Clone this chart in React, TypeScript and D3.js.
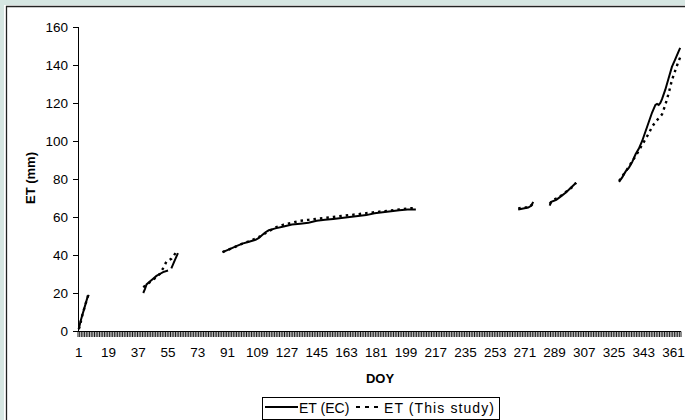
import React, { useEffect, useRef } from 'react'
import * as d3 from 'd3'

// ET (EC) - measured, gaps between periods
const ecSegments: [number, number][][] = [
  [[1, 1], [2, 5], [3, 8], [4, 11], [5, 14], [6, 17], [7, 19]],
  [[40, 20], [41, 22], [42, 24.5], [44, 26], [46, 27.5], [48, 29], [50, 30], [52, 31], [55, 31.8]],
  [[57, 33], [59, 37], [61, 41]],
  [[88, 41.5], [92, 43], [96, 44.5], [100, 46], [104, 47], [108, 48], [110, 49], [112, 50.5], [114, 52], [116, 53],
    [120, 54], [125, 55], [130, 56], [135, 56.5], [140, 57], [145, 58], [150, 58.5], [155, 59], [160, 59.5],
    [165, 60], [170, 60.5], [175, 61], [180, 62], [185, 62.5], [190, 63], [195, 63.5], [200, 64], [205, 64]],
  [[267, 64], [270, 64.5], [273, 65], [275, 66], [276, 68]],
  [[286, 66], [287, 68], [290, 69], [293, 71], [296, 73], [299, 75.5], [302, 78]],
  [[328, 78.5], [330, 81], [332, 84], [334, 86], [336, 89], [338, 93], [340, 96], [342, 100], [344, 105],
    [346, 110], [348, 115], [350, 119], [351, 119.5], [352, 119], [353, 120], [354, 122], [356, 127],
    [358, 133], [360, 139], [362, 143], [364, 147], [365, 149]]
]

// ET (This study) - modelled
const studySegments: [number, number][][] = [
  [[1, 1], [2, 4], [3, 8], [4, 11], [5, 14], [6, 17], [7, 20]],
  [[40, 23], [43, 25], [46, 27], [50, 30], [52, 33], [54, 36.5], [57, 38], [60, 41.5]],
  [[88, 41.5], [95, 44], [100, 46], [105, 47.5], [110, 49.5], [115, 52], [120, 54.5], [125, 56], [130, 57],
    [135, 58], [140, 58.5], [145, 59], [150, 59.5], [155, 60], [160, 60.5], [165, 61], [170, 61.5],
    [175, 62], [180, 62.5], [185, 63], [190, 63.5], [195, 64], [200, 64.5], [205, 64.8]],
  [[267, 64.5], [270, 65], [273, 65], [276, 67]],
  [[286, 67], [288, 69], [291, 70], [294, 72], [297, 74], [300, 76], [302, 78]],
  [[328, 79], [330, 81.5], [332, 84], [334, 86.5], [336, 89.5], [338, 92], [340, 95], [342, 98], [344, 101],
    [346, 104], [348, 107.5], [350, 110], [352, 112], [354, 114], [356, 119], [358, 125], [360, 132],
    [362, 137], [364, 142], [365, 144]]
]

const doyCategories = d3.range(1, 366)
const xTickLabels = d3.range(1, 362, 18)
const yTicks = [0, 20, 40, 60, 80, 100, 120, 140, 160]

const W = 685
const H = 420
const font = '"Liberation Sans", Arial, sans-serif'

export default function App() {
  const ref = useRef<SVGSVGElement>(null)

  useEffect(() => {
    const svg = d3.select(ref.current)
    svg.selectAll('*').remove()

    // frame
    svg.append('rect').attr('width', W).attr('height', H).attr('fill', '#d6e6e2')
    svg.append('rect').attr('x', 4).attr('y', 5).attr('width', W).attr('height', H).attr('fill', '#fff')
    svg.append('path').attr('d', `M6.5,${H} V6.5 H${W}`).attr('fill', 'none').attr('stroke', '#222').attr('stroke-width', 1.3)

    const x = d3.scaleBand<number>().domain(doyCategories).range([78, 681])
    const y = d3.scaleLinear().domain([0, 160]).range([331, 27])
    const cx = (d: number) => (x(d) as number) + x.bandwidth() / 2

    // y axis
    svg.append('line').attr('x1', 78.5).attr('x2', 78.5).attr('y1', y(160)).attr('y2', y(0)).attr('stroke', '#000')
    const yt = svg.append('g')
    yTicks.forEach(t => {
      yt.append('line').attr('x1', 73).attr('x2', 78.5).attr('y1', Math.round(y(t)) + 0.5).attr('y2', Math.round(y(t)) + 0.5).attr('stroke', '#000')
      yt.append('text').attr('x', 68).attr('y', y(t) + 4.5).attr('text-anchor', 'end')
        .attr('font-family', font).attr('font-size', 13.5).attr('fill', '#000').text(t)
    })

    // x axis
    svg.append('line').attr('x1', 78).attr('x2', 681).attr('y1', 331.5).attr('y2', 331.5).attr('stroke', '#000')
    const xt = svg.append('g')
    doyCategories.forEach(d => {
      const px = x(d) as number
      xt.append('line').attr('x1', px).attr('x2', px).attr('y1', 331.5).attr('y2', 337).attr('stroke', '#000').attr('stroke-width', 0.9)
    })
    xt.append('line').attr('x1', 681).attr('x2', 681).attr('y1', 331.5).attr('y2', 337).attr('stroke', '#000').attr('stroke-width', 0.9)
    xTickLabels.forEach(d => {
      xt.append('text').attr('x', cx(d)).attr('y', 357).attr('text-anchor', 'middle')
        .attr('font-family', font).attr('font-size', 13.5).attr('fill', '#000').text(d)
    })

    // titles
    svg.append('text').attr('transform', 'translate(35,178) rotate(-90)').attr('text-anchor', 'middle')
      .attr('font-family', font).attr('font-size', 13).attr('font-weight', 'bold').text('ET (mm)')
    svg.append('text').attr('x', 380).attr('y', 383).attr('text-anchor', 'middle')
      .attr('font-family', font).attr('font-size', 13).attr('font-weight', 'bold').text('DOY')

    const line = d3.line<[number, number]>().x(d => cx(d[0])).y(d => y(d[1]))

    ecSegments.forEach(seg => {
      svg.append('path').attr('d', line(seg)).attr('fill', 'none').attr('stroke', '#000').attr('stroke-width', 2)
    })
    studySegments.forEach(seg => {
      svg.append('path').attr('d', line(seg)).attr('fill', 'none').attr('stroke', '#000')
        .attr('stroke-width', 2.4).attr('stroke-dasharray', '2.5,4')
    })

    // legend
    const lg = svg.append('g')
    lg.append('rect').attr('x', 262.5).attr('y', 397.5).attr('width', 237).attr('height', 22).attr('fill', '#fff').attr('stroke', '#000')
    lg.append('line').attr('x1', 265).attr('x2', 298).attr('y1', 407).attr('y2', 407).attr('stroke', '#000').attr('stroke-width', 2)
    lg.append('text').attr('x', 299).attr('y', 412.5).attr('font-family', font).attr('font-size', 14).text('ET (EC)')
    lg.append('line').attr('x1', 356).attr('x2', 381).attr('y1', 407).attr('y2', 407).attr('stroke', '#000')
      .attr('stroke-width', 2.2).attr('stroke-dasharray', '4,5')
    lg.append('text').attr('x', 384).attr('y', 412.5).attr('font-family', font).attr('font-size', 14)
      .attr('textLength', 110).text('ET (This study)')
  }, [])

  return <svg ref={ref} width={W} height={H} style={{ display: 'block', position: 'absolute', left: 0, top: 0 }} />
}
